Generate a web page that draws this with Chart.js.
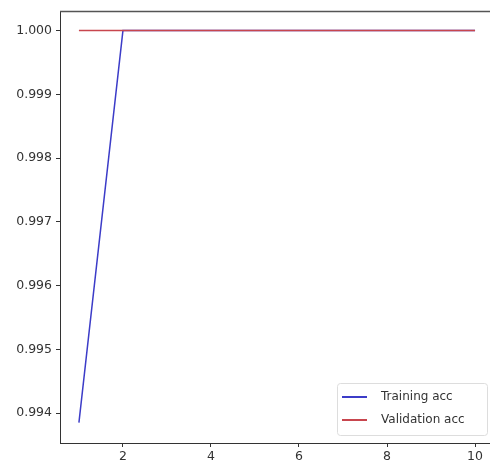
<!DOCTYPE html>
<html>
<head>
<meta charset="utf-8">
<script src="https://cdn.jsdelivr.net/npm/chart.js@4"></script>
<style>
  html, body { margin: 0; padding: 0; background: #fff; }
  #wrap { width: 490px; height: 467px; }
</style>
</head>
<body>
<div id="wrap"><canvas id="accChart" width="490" height="467"></canvas></div>
<script>
// data
const epochs = [1, 2, 3, 4, 5, 6, 7, 8, 9, 10];
const trainingAcc = [0.99385, 1.0, 1.0, 1.0, 1.0, 1.0, 1.0, 1.0, 1.0, 1.0];
const validationAcc = [1.0, 1.0, 1.0, 1.0, 1.0, 1.0, 1.0, 1.0, 1.0, 1.0];
const xTicks = [2, 4, 6, 8, 10];
const yTicks = [0.994, 0.995, 0.996, 0.997, 0.998, 0.999, 1.000];

const toPoints = vals => vals.map((v, i) => ({ x: epochs[i], y: v }));
const FONT = "DejaVu Sans";

// top frame line (matplotlib style box)
const frame = {
    id: "frame",
    afterDraw(chart) {
        const { ctx, chartArea } = chart;
        ctx.save();
        ctx.strokeStyle = "#555";
        ctx.lineWidth = 1.5;
        ctx.beginPath();
        ctx.moveTo(chartArea.left, chartArea.top);
        ctx.lineTo(chartArea.right, chartArea.top);
        ctx.stroke();
        ctx.restore();
    }
};

// legend box in lower right, inside the plot
const insideLegend = {
    id: "insideLegend",
    afterDraw(chart) {
        const { ctx } = chart;
        const x = 337, y = 383, w = 150, h = 52;
        ctx.save();
        ctx.fillStyle = "rgba(255,255,255,0.9)";
        ctx.strokeStyle = "#ddd";
        ctx.lineWidth = 1;
        ctx.beginPath();
        ctx.roundRect(x + 0.5, y + 0.5, w, h, 3);
        ctx.fill();
        ctx.stroke();
        ctx.font = "12px '" + FONT + "'";
        ctx.textBaseline = "middle";
        // draw in dataset array order (training first)
        const sets = chart.data.datasets.slice().sort((a, b) => b.order - a.order);
        sets.forEach((ds, i) => {
            const ly = y + 14 + i * 23;
            ctx.strokeStyle = ds.borderColor;
            ctx.lineWidth = 2;
            ctx.beginPath();
            ctx.moveTo(x + 5, ly);
            ctx.lineTo(x + 30, ly);
            ctx.stroke();
            ctx.fillStyle = "#333";
            ctx.fillText(ds.label, x + 44, ly);
        });
        ctx.restore();
    }
};

const ctx = document.getElementById("accChart").getContext("2d");

new Chart(ctx, {
    type: "line",
    data: {
        datasets: [
            {
                label: "Training acc",
                data: toPoints(trainingAcc),
                borderColor: "#3c3cc8",
                borderWidth: 1.5,
                pointRadius: 0,
                fill: false,
                order: 1
            },
            {
                label: "Validation acc",
                data: toPoints(validationAcc),
                borderColor: "#c8464e",
                borderWidth: 1.5,
                pointRadius: 0,
                fill: false,
                order: 0
            }
        ]
    },
    options: {
        responsive: false,
        animation: false,
        layout: { padding: { top: 10, right: 0, left: 0, bottom: 0 } },
        plugins: {
            legend: { display: false },
            tooltip: { enabled: false }
        },
        scales: {
            x: {
                type: "linear",
                min: 0.57,
                max: 10.34,
                afterBuildTicks: axis => { axis.ticks = xTicks.map(v => ({ value: v })); },
                afterFit: axis => { axis.height = 24; },
                grid: { drawOnChartArea: false, drawTicks: true, tickLength: 4, color: "#333" },
                border: { color: "#333" },
                ticks: { color: "#333", font: { family: FONT, size: 12.5 }, padding: 2, maxRotation: 0 }
            },
            y: {
                min: 0.99353,
                max: 1.0003,
                afterBuildTicks: axis => { axis.ticks = yTicks.map(v => ({ value: v })); },
                afterFit: axis => { axis.width = 60; },
                grid: { drawOnChartArea: false, drawTicks: true, tickLength: 4, color: "#333" },
                border: { color: "#333" },
                ticks: {
                    color: "#333",
                    font: { family: FONT, size: 12.5 },
                    padding: 4,
                    callback: v => v.toFixed(3)
                }
            }
        }
    },
    plugins: [frame, insideLegend]
});
</script>
</body>
</html>
